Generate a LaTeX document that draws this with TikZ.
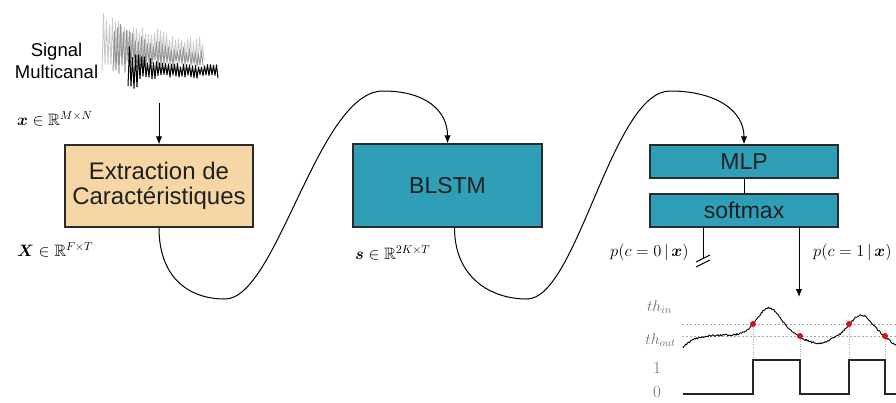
\RequirePackage{fix-cm}
\documentclass[tikz,border=0pt]{standalone}
\usepackage{amsmath,amssymb}
\usepackage{fontspec}
\newfontfamily\hv{Liberation Sans}
\usetikzlibrary{arrows.meta}
\definecolor{tanfill}{HTML}{F6D6A4}
\definecolor{tealfill}{HTML}{2F9FB8}
\definecolor{edge}{HTML}{2A2A2A}
\definecolor{sigA}{HTML}{CACACA}
\definecolor{sigB}{HTML}{969696}
\definecolor{graytext}{HTML}{6E6E6E}
\definecolor{thline}{HTML}{A8A8A8}
\definecolor{dotred}{HTML}{E01010}
\tikzset{
  blk/.style={draw=edge, line width=1.3pt, inner sep=0pt, align=center,
    font=\hv\fontsize{23}{25}\selectfont, text=black!88},
  conn/.style={line width=1pt, draw=black},
  arr/.style={conn, -{Latex[length=8pt,width=6.5pt]}},
  mathlbl/.style={font=\fontsize{16.5}{19}\selectfont, inner sep=0pt, anchor=west},
  plotlbl/.style={font=\fontsize{15.5}{18}\selectfont, text=graytext, inner sep=0pt},
  sigline/.style={line width=0.9pt, line join=round},
  thres/.style={draw=thline, line width=0.7pt, dash pattern=on 2pt off 2pt},
  drop/.style={draw=thline, line width=0.7pt, dash pattern=on 1pt off 1.5pt},
  reddot/.style={fill=dotred, draw=none},
}
\begin{document}
\begin{tikzpicture}[x=1pt,y=-1pt]
\useasboundingbox (0,0) rectangle (896,402);

% ---- multichannel signal ----
\pgfmathsetseed{11}
\draw[sigline, sigA] plot[domain=102:204, samples=69]
  (\x, {40+12*(\x-102)/102 + cos(120*(\x-102))*(20*exp(-(\x-102)/40)+13)*(0.45+0.55*rnd)});
\draw[sigline, sigB] plot[domain=113:203, samples=61]
  (\x, {49+10*(\x-113)/90 + cos(120*(\x-113))*(27*exp(-(\x-113)/30)+7)*(0.45+0.55*rnd)});
\draw[sigline, black, line width=1pt] plot[domain=128:218, samples=61]
  (\x, {68+4*(\x-128)/90 + cos(120*(\x-128))*(23*exp(-(\x-128)/15)+7)*(0.45+0.55*rnd)});

\node[font=\hv\fontsize{18.5}{22}\selectfont, align=center, inner sep=0pt] (sig) at (56.5,61) {Signal\\Multicanal};

% ---- blocks ----
\node[blk, fill=tanfill, minimum width=188pt, minimum height=82pt, font=\hv\fontsize{24}{25}\selectfont] (ext) at (159,186) {Extraction de\\Caractéristiques};
\node[blk, fill=tealfill, minimum width=189pt, minimum height=83pt] (blstm) at (447.5,185.5) {BLSTM};
\node[blk, fill=tealfill, minimum width=188pt, minimum height=33pt] (mlp) at (744,161.5) {MLP};
\node[blk, fill=tealfill, minimum width=188pt, minimum height=33pt] (soft) at (744,210.5) {softmax};

% ---- math labels ----
\node[mathlbl] (xlbl) at (17,119) {$\boldsymbol{x}\in\mathbb{R}^{M\times N}$};
\node[mathlbl] (Xlbl) at (17,250) {$\boldsymbol{X}\in\mathbb{R}^{F\times T}$};
\node[mathlbl] (slbl) at (355,253) {$\boldsymbol{s}\in\mathbb{R}^{2K\times T}$};
\node[mathlbl] (p0) at (610,252) {$p(c=0\,|\,\boldsymbol{x})$};
\node[mathlbl] (p1) at (813,252) {$p(c=1\,|\,\boldsymbol{x})$};

% ---- connectors ----
\coordinate (sigbot) at (159,103);
\draw[arr] (sigbot) -- (ext.north);
\draw[arr] (ext.south) .. controls (159,277) and (188,299) .. (225,299)
  .. controls (277,299) and (318,91) .. (383,91)
  .. controls (425,91) and (447.5,110) .. (blstm.north);
\draw[arr] ([xshift=7pt]blstm.south) .. controls (454.5,277) and (490,299) .. (527,299)
  .. controls (577,299) and (612,91) .. (670,91)
  .. controls (715,91) and (744,110) .. (mlp.north);
\draw[conn] (mlp.south) -- (soft.north);
\coordinate (gnd) at (703,258);
\draw[conn] (soft.south -| gnd) -- (gnd);
\draw[conn] (696,262) -- (710,255);
\draw[conn] (696,267) -- (710,260);
\coordinate (plotin) at (799,297);
\draw[arr] (soft.south -| plotin) -- (plotin);

% ---- threshold plot ----
\node[plotlbl] (thin) at (659.5,307) {$th_{in}$};
\node[plotlbl] (thout) at (660.5,340) {$th_{out}$};
\node[plotlbl, font=\fontsize{17}{19}\selectfont] (one) at (657,368) {1};
\node[plotlbl, font=\fontsize{17}{19}\selectfont] (zero) at (657,392) {0};
\draw[thres] (682,324) -- (896,324);
\draw[thres] (682,336) -- (896,336);
\draw[drop] (753,324) -- (753,360);
\draw[drop] (800,336) -- (800,360);
\draw[drop] (849,324) -- (849,360);
\draw[drop] (885,336) -- (885,360);
\begin{scope}[shift={(683,330)}]
\pgfmathsetseed{5}
\draw[line width=0.9pt, line join=round] plot[domain=0:215, samples=240]
  (\x, {5 + 13*exp(-\x/10) - 27*exp(-((\x-86)/17)^2) + 8*exp(-((\x-135)/18)^2)
        - 20*exp(-((\x-178)/15)^2) + 10*exp(-((\x-215)/12)^2) + 0.9*rand});
\end{scope}
\foreach \px/\py in {753/324, 800/336, 849/324, 885/336}
  \fill[reddot] (\px,\py) circle (3pt);
\draw[line width=1.2pt, draw=black!85] (683,394) -- (753,394) -- (753,360) -- (800,360) -- (800,394) -- (849,394) -- (849,360) -- (885,360) -- (885,394) -- (900,394);
\end{tikzpicture}
\end{document}
